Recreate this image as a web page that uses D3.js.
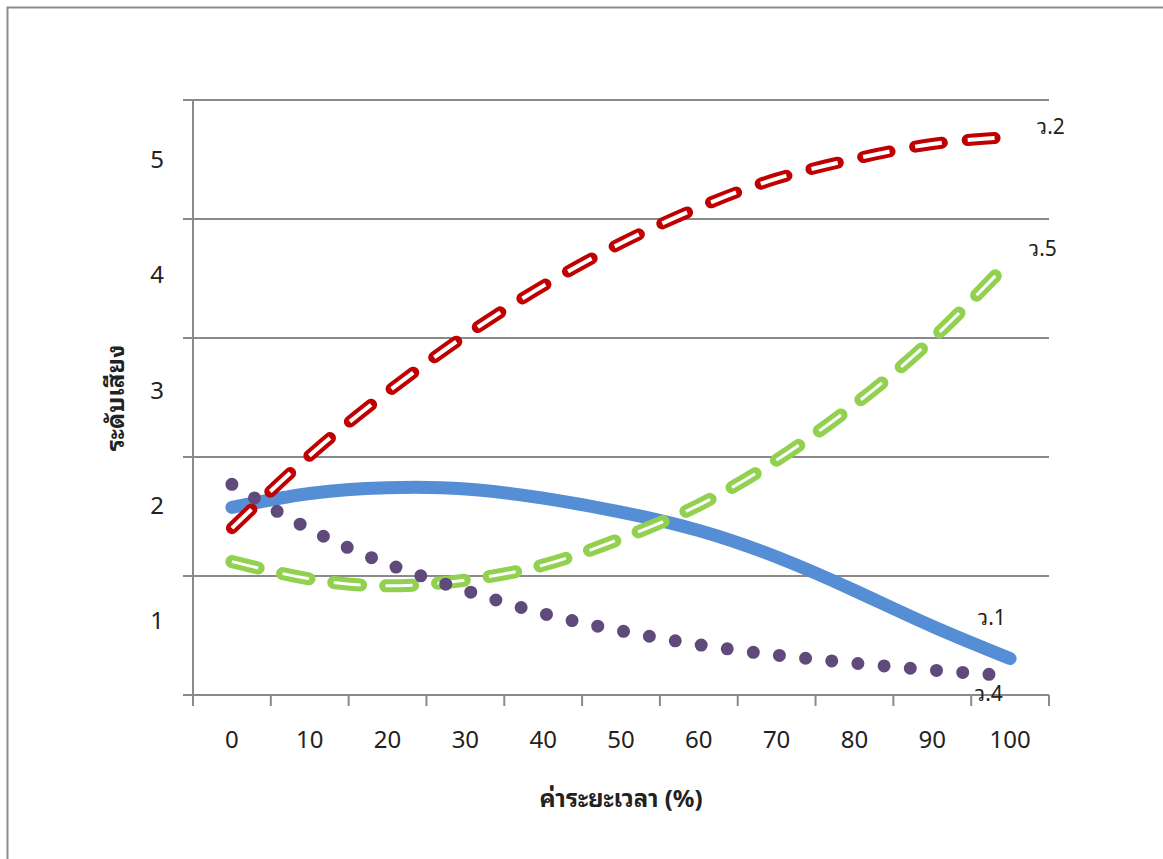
<!DOCTYPE html>
<html>
<head>
<meta charset="utf-8">
<script src="https://cdn.jsdelivr.net/npm/d3@7"></script>
<style>
  html, body { margin: 0; padding: 0; background: #fff; }
  svg { display: block; }
  text { font-family: "Noto Sans Thai Looped", Loma, Garuda, "Noto Sans Thai", "Leelawadee UI", Tahoma, "Noto Sans", "DejaVu Sans", sans-serif; fill: #222; }
</style>
</head>
<body>
<svg id="chart" width="1163" height="859"></svg>
<script>
// ---------- data ----------
const xLabels = ["0", "10", "20", "30", "40", "50", "60", "70", "80", "90", "100"];
const yLabels = ["1", "2", "3", "4", "5"];
const seriesNames = ["ว.1", "ว.2", "ว.5", "ว.4"];
const v1 = [1.98, 2.10, 2.15, 2.14, 2.06, 1.94, 1.78, 1.55, 1.26, 0.95, 0.67];
const v2 = [1.80, 2.43, 2.98, 3.47, 3.90, 4.27, 4.58, 4.83, 5.00, 5.13, 5.19];
const v5 = [1.51, 1.36, 1.30, 1.35, 1.48, 1.71, 2.00, 2.39, 2.87, 3.44, 4.12];
const v4 = [2.18, 1.79, 1.49, 1.26, 1.06, 0.91, 0.79, 0.70, 0.63, 0.57, 0.52];
const xTitle = "ค่าระยะเวลา (%)";
const yTitle = "ระดับเสียง";

(function () {
// ---------- layout ----------
const W = 1163, H = 859;
const pLeft = 193, pRight = 1049, pTop = 100, pBottom = 695;
const svg = d3.select("#chart");

// outer frame
svg.append("rect").attr("x", 7.5).attr("y", 7.5).attr("width", W + 20).attr("height", H + 20)
  .attr("fill", "none").attr("stroke", "#8c8c8c").attr("stroke-width", 2);

const x = d3.scaleBand().domain(xLabels).range([pLeft, pRight]).padding(0);
const xc = d => x(d) + x.bandwidth() / 2;
const y = d3.scaleLinear().domain([0.354, 5.511]).range([pBottom, pTop]);

const gridColor = "#8a8a8a";
// horizontal gridlines (5 bands)
const gridYs = d3.range(6).map(i => pTop + i * (pBottom - pTop) / 5);
svg.append("g").selectAll("line").data(gridYs).join("line")
  .attr("x1", pLeft - 10).attr("x2", pRight).attr("y1", d => d).attr("y2", d => d)
  .attr("stroke", gridColor).attr("stroke-width", 2);
// y axis line
svg.append("line").attr("x1", pLeft).attr("x2", pLeft).attr("y1", pTop).attr("y2", pBottom)
  .attr("stroke", gridColor).attr("stroke-width", 2);
// x tick marks at band edges
const xEdges = xLabels.map(d => x(d)).concat([pRight]);
svg.append("g").selectAll("line").data(xEdges).join("line")
  .attr("x1", d => d).attr("x2", d => d).attr("y1", pBottom).attr("y2", pBottom + 11)
  .attr("stroke", gridColor).attr("stroke-width", 2);

// x tick labels
svg.append("g").selectAll("text").data(xLabels).join("text")
  .attr("x", d => xc(d)).attr("y", 737).attr("text-anchor", "middle")
  .attr("dominant-baseline", "central").attr("font-size", 24).text(d => d);
// y tick labels
svg.append("g").selectAll("text").data(yLabels).join("text")
  .attr("x", 157).attr("y", d => y(+d) - 2).attr("text-anchor", "middle")
  .attr("dominant-baseline", "central").attr("font-size", 24).text(d => d);

// titles
svg.append("text").attr("x", (pLeft + pRight) / 2).attr("y", 796).attr("text-anchor", "middle")
  .attr("dominant-baseline", "central").attr("font-size", 24).attr("font-weight", "bold").text(xTitle);
svg.append("text").attr("transform", "translate(113,398) rotate(-90)").attr("text-anchor", "middle")
  .attr("dominant-baseline", "central").attr("font-size", 24).attr("font-weight", "bold").text(yTitle);

// ---------- series ----------
const line = d3.line().x((d, i) => xc(xLabels[i])).y(d => y(d)).curve(d3.curveNatural);
const g = svg.append("g");

// ว.1 solid blue
g.append("path").attr("d", line(v1)).attr("fill", "none").attr("stroke", "#558ED5")
  .attr("stroke-width", 13).attr("stroke-linecap", "round");

// ว.2 red dashed outline
g.append("path").attr("d", line(v2)).attr("fill", "none").attr("stroke", "#C00000")
  .attr("stroke-width", 12).attr("stroke-linecap", "round").attr("stroke-dasharray", "27 26");
g.append("path").attr("d", line(v2)).attr("fill", "none").attr("stroke", "#fff")
  .attr("stroke-width", 4).attr("stroke-linecap", "butt").attr("stroke-dasharray", "27 26");

// ว.5 green dashed
g.append("path").attr("d", line(v5)).attr("fill", "none").attr("stroke", "#92D050")
  .attr("stroke-width", 13).attr("stroke-linecap", "round").attr("stroke-dasharray", "27 25");
g.append("path").attr("d", line(v5)).attr("fill", "none").attr("stroke", "#fff")
  .attr("stroke-width", 3).attr("stroke-linecap", "butt").attr("stroke-dasharray", "27 25");

// ว.4 purple dotted
g.append("path").attr("d", line(v4)).attr("fill", "none").attr("stroke", "#604A7B")
  .attr("stroke-width", 13).attr("stroke-linecap", "round").attr("stroke-dasharray", "0 26.3");

// series labels near last points
const lastX = xc(xLabels[xLabels.length - 1]);
const labelInfo = [
  { name: seriesNames[1], v: v2[v2.length - 1], dx: 27, dy: -13 },
  { name: seriesNames[2], v: v5[v5.length - 1], dx: 19, dy: -14 },
  { name: seriesNames[0], v: v1[v1.length - 1], dx: -32, dy: -43 },
  { name: seriesNames[3], v: v4[v4.length - 1], dx: -35, dy: 16 }
];
svg.append("g").selectAll("text").data(labelInfo).join("text")
  .attr("x", d => lastX + d.dx).attr("y", d => y(d.v) + d.dy)
  .attr("dominant-baseline", "central").attr("font-size", 21).text(d => d.name);
})();
</script>
</body>
</html>
